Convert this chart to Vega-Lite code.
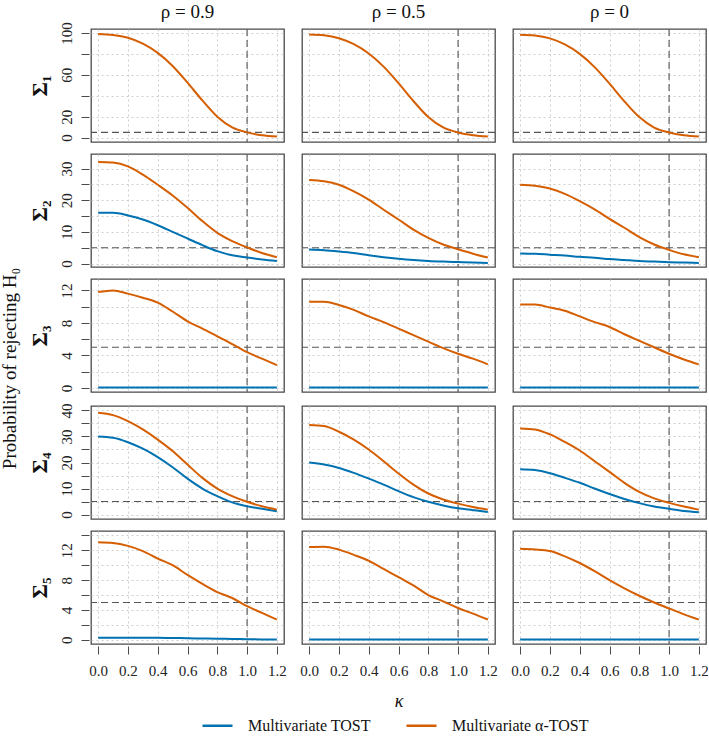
{
  "$schema": "https://vega.github.io/schema/vega-lite/v6.json",
  "padding": {"left": 0, "top": 3, "right": 5, "bottom": 3},
  "data": {
    "values": [
      {"s":1,"r":"ρ = 0.9","m":"Multivariate α-TOST","k":0,"p":99.0},
      {"s":1,"r":"ρ = 0.9","m":"Multivariate α-TOST","k":0.1,"p":98.1},
      {"s":1,"r":"ρ = 0.9","m":"Multivariate α-TOST","k":0.2,"p":95.4},
      {"s":1,"r":"ρ = 0.9","m":"Multivariate α-TOST","k":0.3,"p":89.8},
      {"s":1,"r":"ρ = 0.9","m":"Multivariate α-TOST","k":0.4,"p":81.0},
      {"s":1,"r":"ρ = 0.9","m":"Multivariate α-TOST","k":0.5,"p":68.5},
      {"s":1,"r":"ρ = 0.9","m":"Multivariate α-TOST","k":0.6,"p":52.5},
      {"s":1,"r":"ρ = 0.9","m":"Multivariate α-TOST","k":0.7,"p":35.5},
      {"s":1,"r":"ρ = 0.9","m":"Multivariate α-TOST","k":0.8,"p":20.0},
      {"s":1,"r":"ρ = 0.9","m":"Multivariate α-TOST","k":0.9,"p":9.8},
      {"s":1,"r":"ρ = 0.9","m":"Multivariate α-TOST","k":1.0,"p":5.0},
      {"s":1,"r":"ρ = 0.9","m":"Multivariate α-TOST","k":1.1,"p":2.3},
      {"s":1,"r":"ρ = 0.9","m":"Multivariate α-TOST","k":1.2,"p":1.0},
      {"s":1,"r":"ρ = 0.5","m":"Multivariate α-TOST","k":0,"p":98.6},
      {"s":1,"r":"ρ = 0.5","m":"Multivariate α-TOST","k":0.1,"p":97.8},
      {"s":1,"r":"ρ = 0.5","m":"Multivariate α-TOST","k":0.2,"p":95.0},
      {"s":1,"r":"ρ = 0.5","m":"Multivariate α-TOST","k":0.3,"p":89.3},
      {"s":1,"r":"ρ = 0.5","m":"Multivariate α-TOST","k":0.4,"p":80.4},
      {"s":1,"r":"ρ = 0.5","m":"Multivariate α-TOST","k":0.5,"p":67.8},
      {"s":1,"r":"ρ = 0.5","m":"Multivariate α-TOST","k":0.6,"p":52.0},
      {"s":1,"r":"ρ = 0.5","m":"Multivariate α-TOST","k":0.7,"p":35.0},
      {"s":1,"r":"ρ = 0.5","m":"Multivariate α-TOST","k":0.8,"p":19.7},
      {"s":1,"r":"ρ = 0.5","m":"Multivariate α-TOST","k":0.9,"p":9.7},
      {"s":1,"r":"ρ = 0.5","m":"Multivariate α-TOST","k":1.0,"p":4.9},
      {"s":1,"r":"ρ = 0.5","m":"Multivariate α-TOST","k":1.1,"p":2.3},
      {"s":1,"r":"ρ = 0.5","m":"Multivariate α-TOST","k":1.2,"p":1.0},
      {"s":1,"r":"ρ = 0","m":"Multivariate α-TOST","k":0,"p":98.4},
      {"s":1,"r":"ρ = 0","m":"Multivariate α-TOST","k":0.1,"p":97.6},
      {"s":1,"r":"ρ = 0","m":"Multivariate α-TOST","k":0.2,"p":94.8},
      {"s":1,"r":"ρ = 0","m":"Multivariate α-TOST","k":0.3,"p":89.0},
      {"s":1,"r":"ρ = 0","m":"Multivariate α-TOST","k":0.4,"p":80.0},
      {"s":1,"r":"ρ = 0","m":"Multivariate α-TOST","k":0.5,"p":67.4},
      {"s":1,"r":"ρ = 0","m":"Multivariate α-TOST","k":0.6,"p":51.6},
      {"s":1,"r":"ρ = 0","m":"Multivariate α-TOST","k":0.7,"p":34.7},
      {"s":1,"r":"ρ = 0","m":"Multivariate α-TOST","k":0.8,"p":19.6},
      {"s":1,"r":"ρ = 0","m":"Multivariate α-TOST","k":0.9,"p":9.6},
      {"s":1,"r":"ρ = 0","m":"Multivariate α-TOST","k":1.0,"p":4.9},
      {"s":1,"r":"ρ = 0","m":"Multivariate α-TOST","k":1.1,"p":2.3},
      {"s":1,"r":"ρ = 0","m":"Multivariate α-TOST","k":1.2,"p":1.0},

      {"s":2,"r":"ρ = 0.9","m":"Multivariate TOST","k":0,"p":16.0},
      {"s":2,"r":"ρ = 0.9","m":"Multivariate TOST","k":0.1,"p":16.0},
      {"s":2,"r":"ρ = 0.9","m":"Multivariate TOST","k":0.2,"p":15.2},
      {"s":2,"r":"ρ = 0.9","m":"Multivariate TOST","k":0.3,"p":13.9},
      {"s":2,"r":"ρ = 0.9","m":"Multivariate TOST","k":0.4,"p":12.1},
      {"s":2,"r":"ρ = 0.9","m":"Multivariate TOST","k":0.5,"p":10.0},
      {"s":2,"r":"ρ = 0.9","m":"Multivariate TOST","k":0.6,"p":7.9},
      {"s":2,"r":"ρ = 0.9","m":"Multivariate TOST","k":0.7,"p":5.8},
      {"s":2,"r":"ρ = 0.9","m":"Multivariate TOST","k":0.8,"p":3.9},
      {"s":2,"r":"ρ = 0.9","m":"Multivariate TOST","k":0.9,"p":2.6},
      {"s":2,"r":"ρ = 0.9","m":"Multivariate TOST","k":1.0,"p":1.9},
      {"s":2,"r":"ρ = 0.9","m":"Multivariate TOST","k":1.1,"p":1.3},
      {"s":2,"r":"ρ = 0.9","m":"Multivariate TOST","k":1.2,"p":0.8},
      {"s":2,"r":"ρ = 0.9","m":"Multivariate α-TOST","k":0,"p":32.1},
      {"s":2,"r":"ρ = 0.9","m":"Multivariate α-TOST","k":0.1,"p":31.9},
      {"s":2,"r":"ρ = 0.9","m":"Multivariate α-TOST","k":0.2,"p":30.7},
      {"s":2,"r":"ρ = 0.9","m":"Multivariate α-TOST","k":0.3,"p":28.1},
      {"s":2,"r":"ρ = 0.9","m":"Multivariate α-TOST","k":0.4,"p":24.9},
      {"s":2,"r":"ρ = 0.9","m":"Multivariate α-TOST","k":0.5,"p":21.5},
      {"s":2,"r":"ρ = 0.9","m":"Multivariate α-TOST","k":0.6,"p":17.6},
      {"s":2,"r":"ρ = 0.9","m":"Multivariate α-TOST","k":0.7,"p":13.4},
      {"s":2,"r":"ρ = 0.9","m":"Multivariate α-TOST","k":0.8,"p":9.7},
      {"s":2,"r":"ρ = 0.9","m":"Multivariate α-TOST","k":0.9,"p":7.1},
      {"s":2,"r":"ρ = 0.9","m":"Multivariate α-TOST","k":1.0,"p":5.1},
      {"s":2,"r":"ρ = 0.9","m":"Multivariate α-TOST","k":1.1,"p":3.3},
      {"s":2,"r":"ρ = 0.9","m":"Multivariate α-TOST","k":1.2,"p":2.0},
      {"s":2,"r":"ρ = 0.5","m":"Multivariate TOST","k":0,"p":4.4},
      {"s":2,"r":"ρ = 0.5","m":"Multivariate TOST","k":0.1,"p":4.2},
      {"s":2,"r":"ρ = 0.5","m":"Multivariate TOST","k":0.2,"p":3.8},
      {"s":2,"r":"ρ = 0.5","m":"Multivariate TOST","k":0.3,"p":3.3},
      {"s":2,"r":"ρ = 0.5","m":"Multivariate TOST","k":0.4,"p":2.6},
      {"s":2,"r":"ρ = 0.5","m":"Multivariate TOST","k":0.5,"p":2.0},
      {"s":2,"r":"ρ = 0.5","m":"Multivariate TOST","k":0.6,"p":1.5},
      {"s":2,"r":"ρ = 0.5","m":"Multivariate TOST","k":0.7,"p":1.1},
      {"s":2,"r":"ρ = 0.5","m":"Multivariate TOST","k":0.8,"p":0.8},
      {"s":2,"r":"ρ = 0.5","m":"Multivariate TOST","k":0.9,"p":0.6},
      {"s":2,"r":"ρ = 0.5","m":"Multivariate TOST","k":1.0,"p":0.45},
      {"s":2,"r":"ρ = 0.5","m":"Multivariate TOST","k":1.1,"p":0.3},
      {"s":2,"r":"ρ = 0.5","m":"Multivariate TOST","k":1.2,"p":0.2},
      {"s":2,"r":"ρ = 0.5","m":"Multivariate α-TOST","k":0,"p":26.4},
      {"s":2,"r":"ρ = 0.5","m":"Multivariate α-TOST","k":0.1,"p":26.0},
      {"s":2,"r":"ρ = 0.5","m":"Multivariate α-TOST","k":0.2,"p":24.9},
      {"s":2,"r":"ρ = 0.5","m":"Multivariate α-TOST","k":0.3,"p":22.8},
      {"s":2,"r":"ρ = 0.5","m":"Multivariate α-TOST","k":0.4,"p":20.2},
      {"s":2,"r":"ρ = 0.5","m":"Multivariate α-TOST","k":0.5,"p":17.0},
      {"s":2,"r":"ρ = 0.5","m":"Multivariate α-TOST","k":0.6,"p":13.9},
      {"s":2,"r":"ρ = 0.5","m":"Multivariate α-TOST","k":0.7,"p":10.7},
      {"s":2,"r":"ρ = 0.5","m":"Multivariate α-TOST","k":0.8,"p":8.1},
      {"s":2,"r":"ρ = 0.5","m":"Multivariate α-TOST","k":0.9,"p":6.0},
      {"s":2,"r":"ρ = 0.5","m":"Multivariate α-TOST","k":1.0,"p":4.5},
      {"s":2,"r":"ρ = 0.5","m":"Multivariate α-TOST","k":1.1,"p":3.1},
      {"s":2,"r":"ρ = 0.5","m":"Multivariate α-TOST","k":1.2,"p":1.9},
      {"s":2,"r":"ρ = 0","m":"Multivariate TOST","k":0,"p":3.2},
      {"s":2,"r":"ρ = 0","m":"Multivariate TOST","k":0.1,"p":3.1},
      {"s":2,"r":"ρ = 0","m":"Multivariate TOST","k":0.2,"p":2.8},
      {"s":2,"r":"ρ = 0","m":"Multivariate TOST","k":0.3,"p":2.5},
      {"s":2,"r":"ρ = 0","m":"Multivariate TOST","k":0.4,"p":2.1},
      {"s":2,"r":"ρ = 0","m":"Multivariate TOST","k":0.5,"p":1.8},
      {"s":2,"r":"ρ = 0","m":"Multivariate TOST","k":0.6,"p":1.4},
      {"s":2,"r":"ρ = 0","m":"Multivariate TOST","k":0.7,"p":1.1},
      {"s":2,"r":"ρ = 0","m":"Multivariate TOST","k":0.8,"p":0.8},
      {"s":2,"r":"ρ = 0","m":"Multivariate TOST","k":0.9,"p":0.6},
      {"s":2,"r":"ρ = 0","m":"Multivariate TOST","k":1.0,"p":0.4},
      {"s":2,"r":"ρ = 0","m":"Multivariate TOST","k":1.1,"p":0.3},
      {"s":2,"r":"ρ = 0","m":"Multivariate TOST","k":1.2,"p":0.2},
      {"s":2,"r":"ρ = 0","m":"Multivariate α-TOST","k":0,"p":24.9},
      {"s":2,"r":"ρ = 0","m":"Multivariate α-TOST","k":0.1,"p":24.6},
      {"s":2,"r":"ρ = 0","m":"Multivariate α-TOST","k":0.2,"p":23.7},
      {"s":2,"r":"ρ = 0","m":"Multivariate α-TOST","k":0.3,"p":22.0},
      {"s":2,"r":"ρ = 0","m":"Multivariate α-TOST","k":0.4,"p":19.7},
      {"s":2,"r":"ρ = 0","m":"Multivariate α-TOST","k":0.5,"p":17.1},
      {"s":2,"r":"ρ = 0","m":"Multivariate α-TOST","k":0.6,"p":14.1},
      {"s":2,"r":"ρ = 0","m":"Multivariate α-TOST","k":0.7,"p":11.3},
      {"s":2,"r":"ρ = 0","m":"Multivariate α-TOST","k":0.8,"p":8.3},
      {"s":2,"r":"ρ = 0","m":"Multivariate α-TOST","k":0.9,"p":6.0},
      {"s":2,"r":"ρ = 0","m":"Multivariate α-TOST","k":1.0,"p":4.3},
      {"s":2,"r":"ρ = 0","m":"Multivariate α-TOST","k":1.1,"p":2.9},
      {"s":2,"r":"ρ = 0","m":"Multivariate α-TOST","k":1.2,"p":2.0},

      {"s":3,"r":"ρ = 0.9","m":"Multivariate TOST","k":0,"p":0.05},
      {"s":3,"r":"ρ = 0.9","m":"Multivariate TOST","k":0.1,"p":0.05},
      {"s":3,"r":"ρ = 0.9","m":"Multivariate TOST","k":0.2,"p":0.05},
      {"s":3,"r":"ρ = 0.9","m":"Multivariate TOST","k":0.3,"p":0.05},
      {"s":3,"r":"ρ = 0.9","m":"Multivariate TOST","k":0.4,"p":0.05},
      {"s":3,"r":"ρ = 0.9","m":"Multivariate TOST","k":0.5,"p":0.05},
      {"s":3,"r":"ρ = 0.9","m":"Multivariate TOST","k":0.6,"p":0.05},
      {"s":3,"r":"ρ = 0.9","m":"Multivariate TOST","k":0.7,"p":0.05},
      {"s":3,"r":"ρ = 0.9","m":"Multivariate TOST","k":0.8,"p":0.05},
      {"s":3,"r":"ρ = 0.9","m":"Multivariate TOST","k":0.9,"p":0.05},
      {"s":3,"r":"ρ = 0.9","m":"Multivariate TOST","k":1.0,"p":0.05},
      {"s":3,"r":"ρ = 0.9","m":"Multivariate TOST","k":1.1,"p":0.05},
      {"s":3,"r":"ρ = 0.9","m":"Multivariate TOST","k":1.2,"p":0.05},
      {"s":3,"r":"ρ = 0.9","m":"Multivariate α-TOST","k":0,"p":11.8},
      {"s":3,"r":"ρ = 0.9","m":"Multivariate α-TOST","k":0.1,"p":12.0},
      {"s":3,"r":"ρ = 0.9","m":"Multivariate α-TOST","k":0.2,"p":11.6},
      {"s":3,"r":"ρ = 0.9","m":"Multivariate α-TOST","k":0.3,"p":11.1},
      {"s":3,"r":"ρ = 0.9","m":"Multivariate α-TOST","k":0.4,"p":10.5},
      {"s":3,"r":"ρ = 0.9","m":"Multivariate α-TOST","k":0.5,"p":9.4},
      {"s":3,"r":"ρ = 0.9","m":"Multivariate α-TOST","k":0.6,"p":8.2},
      {"s":3,"r":"ρ = 0.9","m":"Multivariate α-TOST","k":0.7,"p":7.3},
      {"s":3,"r":"ρ = 0.9","m":"Multivariate α-TOST","k":0.8,"p":6.35},
      {"s":3,"r":"ρ = 0.9","m":"Multivariate α-TOST","k":0.9,"p":5.4},
      {"s":3,"r":"ρ = 0.9","m":"Multivariate α-TOST","k":1.0,"p":4.4},
      {"s":3,"r":"ρ = 0.9","m":"Multivariate α-TOST","k":1.1,"p":3.6},
      {"s":3,"r":"ρ = 0.9","m":"Multivariate α-TOST","k":1.2,"p":2.8},
      {"s":3,"r":"ρ = 0.5","m":"Multivariate TOST","k":0,"p":0.05},
      {"s":3,"r":"ρ = 0.5","m":"Multivariate TOST","k":0.1,"p":0.05},
      {"s":3,"r":"ρ = 0.5","m":"Multivariate TOST","k":0.2,"p":0.05},
      {"s":3,"r":"ρ = 0.5","m":"Multivariate TOST","k":0.3,"p":0.05},
      {"s":3,"r":"ρ = 0.5","m":"Multivariate TOST","k":0.4,"p":0.05},
      {"s":3,"r":"ρ = 0.5","m":"Multivariate TOST","k":0.5,"p":0.05},
      {"s":3,"r":"ρ = 0.5","m":"Multivariate TOST","k":0.6,"p":0.05},
      {"s":3,"r":"ρ = 0.5","m":"Multivariate TOST","k":0.7,"p":0.05},
      {"s":3,"r":"ρ = 0.5","m":"Multivariate TOST","k":0.8,"p":0.05},
      {"s":3,"r":"ρ = 0.5","m":"Multivariate TOST","k":0.9,"p":0.05},
      {"s":3,"r":"ρ = 0.5","m":"Multivariate TOST","k":1.0,"p":0.05},
      {"s":3,"r":"ρ = 0.5","m":"Multivariate TOST","k":1.1,"p":0.05},
      {"s":3,"r":"ρ = 0.5","m":"Multivariate TOST","k":1.2,"p":0.05},
      {"s":3,"r":"ρ = 0.5","m":"Multivariate α-TOST","k":0,"p":10.6},
      {"s":3,"r":"ρ = 0.5","m":"Multivariate α-TOST","k":0.1,"p":10.6},
      {"s":3,"r":"ρ = 0.5","m":"Multivariate α-TOST","k":0.2,"p":10.2},
      {"s":3,"r":"ρ = 0.5","m":"Multivariate α-TOST","k":0.3,"p":9.6},
      {"s":3,"r":"ρ = 0.5","m":"Multivariate α-TOST","k":0.4,"p":8.8},
      {"s":3,"r":"ρ = 0.5","m":"Multivariate α-TOST","k":0.5,"p":8.1},
      {"s":3,"r":"ρ = 0.5","m":"Multivariate α-TOST","k":0.6,"p":7.3},
      {"s":3,"r":"ρ = 0.5","m":"Multivariate α-TOST","k":0.7,"p":6.5},
      {"s":3,"r":"ρ = 0.5","m":"Multivariate α-TOST","k":0.8,"p":5.7},
      {"s":3,"r":"ρ = 0.5","m":"Multivariate α-TOST","k":0.9,"p":4.9},
      {"s":3,"r":"ρ = 0.5","m":"Multivariate α-TOST","k":1.0,"p":4.2},
      {"s":3,"r":"ρ = 0.5","m":"Multivariate α-TOST","k":1.1,"p":3.6},
      {"s":3,"r":"ρ = 0.5","m":"Multivariate α-TOST","k":1.2,"p":2.9},
      {"s":3,"r":"ρ = 0","m":"Multivariate TOST","k":0,"p":0.05},
      {"s":3,"r":"ρ = 0","m":"Multivariate TOST","k":0.1,"p":0.05},
      {"s":3,"r":"ρ = 0","m":"Multivariate TOST","k":0.2,"p":0.05},
      {"s":3,"r":"ρ = 0","m":"Multivariate TOST","k":0.3,"p":0.05},
      {"s":3,"r":"ρ = 0","m":"Multivariate TOST","k":0.4,"p":0.05},
      {"s":3,"r":"ρ = 0","m":"Multivariate TOST","k":0.5,"p":0.05},
      {"s":3,"r":"ρ = 0","m":"Multivariate TOST","k":0.6,"p":0.05},
      {"s":3,"r":"ρ = 0","m":"Multivariate TOST","k":0.7,"p":0.05},
      {"s":3,"r":"ρ = 0","m":"Multivariate TOST","k":0.8,"p":0.05},
      {"s":3,"r":"ρ = 0","m":"Multivariate TOST","k":0.9,"p":0.05},
      {"s":3,"r":"ρ = 0","m":"Multivariate TOST","k":1.0,"p":0.05},
      {"s":3,"r":"ρ = 0","m":"Multivariate TOST","k":1.1,"p":0.05},
      {"s":3,"r":"ρ = 0","m":"Multivariate TOST","k":1.2,"p":0.05},
      {"s":3,"r":"ρ = 0","m":"Multivariate α-TOST","k":0,"p":10.25},
      {"s":3,"r":"ρ = 0","m":"Multivariate α-TOST","k":0.1,"p":10.25},
      {"s":3,"r":"ρ = 0","m":"Multivariate α-TOST","k":0.2,"p":9.9},
      {"s":3,"r":"ρ = 0","m":"Multivariate α-TOST","k":0.3,"p":9.5},
      {"s":3,"r":"ρ = 0","m":"Multivariate α-TOST","k":0.4,"p":8.8},
      {"s":3,"r":"ρ = 0","m":"Multivariate α-TOST","k":0.5,"p":8.1},
      {"s":3,"r":"ρ = 0","m":"Multivariate α-TOST","k":0.6,"p":7.5},
      {"s":3,"r":"ρ = 0","m":"Multivariate α-TOST","k":0.7,"p":6.6},
      {"s":3,"r":"ρ = 0","m":"Multivariate α-TOST","k":0.8,"p":5.8},
      {"s":3,"r":"ρ = 0","m":"Multivariate α-TOST","k":0.9,"p":5.0},
      {"s":3,"r":"ρ = 0","m":"Multivariate α-TOST","k":1.0,"p":4.2},
      {"s":3,"r":"ρ = 0","m":"Multivariate α-TOST","k":1.1,"p":3.5},
      {"s":3,"r":"ρ = 0","m":"Multivariate α-TOST","k":1.2,"p":2.9},

      {"s":4,"r":"ρ = 0.9","m":"Multivariate TOST","k":0,"p":30.0},
      {"s":4,"r":"ρ = 0.9","m":"Multivariate TOST","k":0.1,"p":29.5},
      {"s":4,"r":"ρ = 0.9","m":"Multivariate TOST","k":0.2,"p":27.8},
      {"s":4,"r":"ρ = 0.9","m":"Multivariate TOST","k":0.3,"p":25.3},
      {"s":4,"r":"ρ = 0.9","m":"Multivariate TOST","k":0.4,"p":22.1},
      {"s":4,"r":"ρ = 0.9","m":"Multivariate TOST","k":0.5,"p":18.2},
      {"s":4,"r":"ρ = 0.9","m":"Multivariate TOST","k":0.6,"p":13.8},
      {"s":4,"r":"ρ = 0.9","m":"Multivariate TOST","k":0.7,"p":10.0},
      {"s":4,"r":"ρ = 0.9","m":"Multivariate TOST","k":0.8,"p":7.1},
      {"s":4,"r":"ρ = 0.9","m":"Multivariate TOST","k":0.9,"p":4.7},
      {"s":4,"r":"ρ = 0.9","m":"Multivariate TOST","k":1.0,"p":3.2},
      {"s":4,"r":"ρ = 0.9","m":"Multivariate TOST","k":1.1,"p":2.2},
      {"s":4,"r":"ρ = 0.9","m":"Multivariate TOST","k":1.2,"p":1.3},
      {"s":4,"r":"ρ = 0.9","m":"Multivariate α-TOST","k":0,"p":39.1},
      {"s":4,"r":"ρ = 0.9","m":"Multivariate α-TOST","k":0.1,"p":38.2},
      {"s":4,"r":"ρ = 0.9","m":"Multivariate α-TOST","k":0.2,"p":35.9},
      {"s":4,"r":"ρ = 0.9","m":"Multivariate α-TOST","k":0.3,"p":32.7},
      {"s":4,"r":"ρ = 0.9","m":"Multivariate α-TOST","k":0.4,"p":28.8},
      {"s":4,"r":"ρ = 0.9","m":"Multivariate α-TOST","k":0.5,"p":24.4},
      {"s":4,"r":"ρ = 0.9","m":"Multivariate α-TOST","k":0.6,"p":19.2},
      {"s":4,"r":"ρ = 0.9","m":"Multivariate α-TOST","k":0.7,"p":14.1},
      {"s":4,"r":"ρ = 0.9","m":"Multivariate α-TOST","k":0.8,"p":10.0},
      {"s":4,"r":"ρ = 0.9","m":"Multivariate α-TOST","k":0.9,"p":7.1},
      {"s":4,"r":"ρ = 0.9","m":"Multivariate α-TOST","k":1.0,"p":4.9},
      {"s":4,"r":"ρ = 0.9","m":"Multivariate α-TOST","k":1.1,"p":3.2},
      {"s":4,"r":"ρ = 0.9","m":"Multivariate α-TOST","k":1.2,"p":1.9},
      {"s":4,"r":"ρ = 0.5","m":"Multivariate TOST","k":0,"p":20.0},
      {"s":4,"r":"ρ = 0.5","m":"Multivariate TOST","k":0.1,"p":19.2},
      {"s":4,"r":"ρ = 0.5","m":"Multivariate TOST","k":0.2,"p":17.9},
      {"s":4,"r":"ρ = 0.5","m":"Multivariate TOST","k":0.3,"p":16.0},
      {"s":4,"r":"ρ = 0.5","m":"Multivariate TOST","k":0.4,"p":13.8},
      {"s":4,"r":"ρ = 0.5","m":"Multivariate TOST","k":0.5,"p":11.5},
      {"s":4,"r":"ρ = 0.5","m":"Multivariate TOST","k":0.6,"p":9.0},
      {"s":4,"r":"ρ = 0.5","m":"Multivariate TOST","k":0.7,"p":6.7},
      {"s":4,"r":"ρ = 0.5","m":"Multivariate TOST","k":0.8,"p":4.9},
      {"s":4,"r":"ρ = 0.5","m":"Multivariate TOST","k":0.9,"p":3.5},
      {"s":4,"r":"ρ = 0.5","m":"Multivariate TOST","k":1.0,"p":2.4},
      {"s":4,"r":"ρ = 0.5","m":"Multivariate TOST","k":1.1,"p":1.7},
      {"s":4,"r":"ρ = 0.5","m":"Multivariate TOST","k":1.2,"p":1.0},
      {"s":4,"r":"ρ = 0.5","m":"Multivariate α-TOST","k":0,"p":34.4},
      {"s":4,"r":"ρ = 0.5","m":"Multivariate α-TOST","k":0.1,"p":34.0},
      {"s":4,"r":"ρ = 0.5","m":"Multivariate α-TOST","k":0.2,"p":31.8},
      {"s":4,"r":"ρ = 0.5","m":"Multivariate α-TOST","k":0.3,"p":28.8},
      {"s":4,"r":"ρ = 0.5","m":"Multivariate α-TOST","k":0.4,"p":25.0},
      {"s":4,"r":"ρ = 0.5","m":"Multivariate α-TOST","k":0.5,"p":20.5},
      {"s":4,"r":"ρ = 0.5","m":"Multivariate α-TOST","k":0.6,"p":15.8},
      {"s":4,"r":"ρ = 0.5","m":"Multivariate α-TOST","k":0.7,"p":11.5},
      {"s":4,"r":"ρ = 0.5","m":"Multivariate α-TOST","k":0.8,"p":8.1},
      {"s":4,"r":"ρ = 0.5","m":"Multivariate α-TOST","k":0.9,"p":5.8},
      {"s":4,"r":"ρ = 0.5","m":"Multivariate α-TOST","k":1.0,"p":4.2},
      {"s":4,"r":"ρ = 0.5","m":"Multivariate α-TOST","k":1.1,"p":2.9},
      {"s":4,"r":"ρ = 0.5","m":"Multivariate α-TOST","k":1.2,"p":1.9},
      {"s":4,"r":"ρ = 0","m":"Multivariate TOST","k":0,"p":17.4},
      {"s":4,"r":"ρ = 0","m":"Multivariate TOST","k":0.1,"p":17.1},
      {"s":4,"r":"ρ = 0","m":"Multivariate TOST","k":0.2,"p":15.9},
      {"s":4,"r":"ρ = 0","m":"Multivariate TOST","k":0.3,"p":14.1},
      {"s":4,"r":"ρ = 0","m":"Multivariate TOST","k":0.4,"p":12.2},
      {"s":4,"r":"ρ = 0","m":"Multivariate TOST","k":0.5,"p":10.0},
      {"s":4,"r":"ρ = 0","m":"Multivariate TOST","k":0.6,"p":7.9},
      {"s":4,"r":"ρ = 0","m":"Multivariate TOST","k":0.7,"p":6.0},
      {"s":4,"r":"ρ = 0","m":"Multivariate TOST","k":0.8,"p":4.4},
      {"s":4,"r":"ρ = 0","m":"Multivariate TOST","k":0.9,"p":3.1},
      {"s":4,"r":"ρ = 0","m":"Multivariate TOST","k":1.0,"p":2.2},
      {"s":4,"r":"ρ = 0","m":"Multivariate TOST","k":1.1,"p":1.4},
      {"s":4,"r":"ρ = 0","m":"Multivariate TOST","k":1.2,"p":0.9},
      {"s":4,"r":"ρ = 0","m":"Multivariate α-TOST","k":0,"p":33.1},
      {"s":4,"r":"ρ = 0","m":"Multivariate α-TOST","k":0.1,"p":32.7},
      {"s":4,"r":"ρ = 0","m":"Multivariate α-TOST","k":0.2,"p":30.8},
      {"s":4,"r":"ρ = 0","m":"Multivariate α-TOST","k":0.3,"p":27.9},
      {"s":4,"r":"ρ = 0","m":"Multivariate α-TOST","k":0.4,"p":24.6},
      {"s":4,"r":"ρ = 0","m":"Multivariate α-TOST","k":0.5,"p":20.5},
      {"s":4,"r":"ρ = 0","m":"Multivariate α-TOST","k":0.6,"p":16.4},
      {"s":4,"r":"ρ = 0","m":"Multivariate α-TOST","k":0.7,"p":12.2},
      {"s":4,"r":"ρ = 0","m":"Multivariate α-TOST","k":0.8,"p":8.7},
      {"s":4,"r":"ρ = 0","m":"Multivariate α-TOST","k":0.9,"p":6.2},
      {"s":4,"r":"ρ = 0","m":"Multivariate α-TOST","k":1.0,"p":4.5},
      {"s":4,"r":"ρ = 0","m":"Multivariate α-TOST","k":1.1,"p":3.1},
      {"s":4,"r":"ρ = 0","m":"Multivariate α-TOST","k":1.2,"p":1.9},

      {"s":5,"r":"ρ = 0.9","m":"Multivariate TOST","k":0,"p":0.25},
      {"s":5,"r":"ρ = 0.9","m":"Multivariate TOST","k":0.1,"p":0.25},
      {"s":5,"r":"ρ = 0.9","m":"Multivariate TOST","k":0.2,"p":0.25},
      {"s":5,"r":"ρ = 0.9","m":"Multivariate TOST","k":0.3,"p":0.25},
      {"s":5,"r":"ρ = 0.9","m":"Multivariate TOST","k":0.4,"p":0.25},
      {"s":5,"r":"ρ = 0.9","m":"Multivariate TOST","k":0.5,"p":0.22},
      {"s":5,"r":"ρ = 0.9","m":"Multivariate TOST","k":0.6,"p":0.2},
      {"s":5,"r":"ρ = 0.9","m":"Multivariate TOST","k":0.7,"p":0.16},
      {"s":5,"r":"ρ = 0.9","m":"Multivariate TOST","k":0.8,"p":0.12},
      {"s":5,"r":"ρ = 0.9","m":"Multivariate TOST","k":0.9,"p":0.1},
      {"s":5,"r":"ρ = 0.9","m":"Multivariate TOST","k":1.0,"p":0.06},
      {"s":5,"r":"ρ = 0.9","m":"Multivariate TOST","k":1.1,"p":0.04},
      {"s":5,"r":"ρ = 0.9","m":"Multivariate TOST","k":1.2,"p":0.03},
      {"s":5,"r":"ρ = 0.9","m":"Multivariate α-TOST","k":0,"p":13.1},
      {"s":5,"r":"ρ = 0.9","m":"Multivariate α-TOST","k":0.1,"p":13.0},
      {"s":5,"r":"ρ = 0.9","m":"Multivariate α-TOST","k":0.2,"p":12.6},
      {"s":5,"r":"ρ = 0.9","m":"Multivariate α-TOST","k":0.3,"p":11.9},
      {"s":5,"r":"ρ = 0.9","m":"Multivariate α-TOST","k":0.4,"p":10.9},
      {"s":5,"r":"ρ = 0.9","m":"Multivariate α-TOST","k":0.5,"p":10.0},
      {"s":5,"r":"ρ = 0.9","m":"Multivariate α-TOST","k":0.6,"p":8.7},
      {"s":5,"r":"ρ = 0.9","m":"Multivariate α-TOST","k":0.7,"p":7.5},
      {"s":5,"r":"ρ = 0.9","m":"Multivariate α-TOST","k":0.8,"p":6.4},
      {"s":5,"r":"ρ = 0.9","m":"Multivariate α-TOST","k":0.9,"p":5.6},
      {"s":5,"r":"ρ = 0.9","m":"Multivariate α-TOST","k":1.0,"p":4.5},
      {"s":5,"r":"ρ = 0.9","m":"Multivariate α-TOST","k":1.1,"p":3.6},
      {"s":5,"r":"ρ = 0.9","m":"Multivariate α-TOST","k":1.2,"p":2.7},
      {"s":5,"r":"ρ = 0.5","m":"Multivariate TOST","k":0,"p":0.03},
      {"s":5,"r":"ρ = 0.5","m":"Multivariate TOST","k":0.1,"p":0.03},
      {"s":5,"r":"ρ = 0.5","m":"Multivariate TOST","k":0.2,"p":0.03},
      {"s":5,"r":"ρ = 0.5","m":"Multivariate TOST","k":0.3,"p":0.03},
      {"s":5,"r":"ρ = 0.5","m":"Multivariate TOST","k":0.4,"p":0.03},
      {"s":5,"r":"ρ = 0.5","m":"Multivariate TOST","k":0.5,"p":0.03},
      {"s":5,"r":"ρ = 0.5","m":"Multivariate TOST","k":0.6,"p":0.03},
      {"s":5,"r":"ρ = 0.5","m":"Multivariate TOST","k":0.7,"p":0.03},
      {"s":5,"r":"ρ = 0.5","m":"Multivariate TOST","k":0.8,"p":0.03},
      {"s":5,"r":"ρ = 0.5","m":"Multivariate TOST","k":0.9,"p":0.03},
      {"s":5,"r":"ρ = 0.5","m":"Multivariate TOST","k":1.0,"p":0.03},
      {"s":5,"r":"ρ = 0.5","m":"Multivariate TOST","k":1.1,"p":0.03},
      {"s":5,"r":"ρ = 0.5","m":"Multivariate TOST","k":1.2,"p":0.03},
      {"s":5,"r":"ρ = 0.5","m":"Multivariate α-TOST","k":0,"p":12.45},
      {"s":5,"r":"ρ = 0.5","m":"Multivariate α-TOST","k":0.1,"p":12.5},
      {"s":5,"r":"ρ = 0.5","m":"Multivariate α-TOST","k":0.2,"p":12.1},
      {"s":5,"r":"ρ = 0.5","m":"Multivariate α-TOST","k":0.3,"p":11.4},
      {"s":5,"r":"ρ = 0.5","m":"Multivariate α-TOST","k":0.4,"p":10.6},
      {"s":5,"r":"ρ = 0.5","m":"Multivariate α-TOST","k":0.5,"p":9.5},
      {"s":5,"r":"ρ = 0.5","m":"Multivariate α-TOST","k":0.6,"p":8.4},
      {"s":5,"r":"ρ = 0.5","m":"Multivariate α-TOST","k":0.7,"p":7.3},
      {"s":5,"r":"ρ = 0.5","m":"Multivariate α-TOST","k":0.8,"p":6.0},
      {"s":5,"r":"ρ = 0.5","m":"Multivariate α-TOST","k":0.9,"p":5.15},
      {"s":5,"r":"ρ = 0.5","m":"Multivariate α-TOST","k":1.0,"p":4.25},
      {"s":5,"r":"ρ = 0.5","m":"Multivariate α-TOST","k":1.1,"p":3.5},
      {"s":5,"r":"ρ = 0.5","m":"Multivariate α-TOST","k":1.2,"p":2.7},
      {"s":5,"r":"ρ = 0","m":"Multivariate TOST","k":0,"p":0.03},
      {"s":5,"r":"ρ = 0","m":"Multivariate TOST","k":0.1,"p":0.03},
      {"s":5,"r":"ρ = 0","m":"Multivariate TOST","k":0.2,"p":0.03},
      {"s":5,"r":"ρ = 0","m":"Multivariate TOST","k":0.3,"p":0.03},
      {"s":5,"r":"ρ = 0","m":"Multivariate TOST","k":0.4,"p":0.03},
      {"s":5,"r":"ρ = 0","m":"Multivariate TOST","k":0.5,"p":0.03},
      {"s":5,"r":"ρ = 0","m":"Multivariate TOST","k":0.6,"p":0.03},
      {"s":5,"r":"ρ = 0","m":"Multivariate TOST","k":0.7,"p":0.03},
      {"s":5,"r":"ρ = 0","m":"Multivariate TOST","k":0.8,"p":0.03},
      {"s":5,"r":"ρ = 0","m":"Multivariate TOST","k":0.9,"p":0.03},
      {"s":5,"r":"ρ = 0","m":"Multivariate TOST","k":1.0,"p":0.03},
      {"s":5,"r":"ρ = 0","m":"Multivariate TOST","k":1.1,"p":0.03},
      {"s":5,"r":"ρ = 0","m":"Multivariate TOST","k":1.2,"p":0.03},
      {"s":5,"r":"ρ = 0","m":"Multivariate α-TOST","k":0,"p":12.2},
      {"s":5,"r":"ρ = 0","m":"Multivariate α-TOST","k":0.1,"p":12.1},
      {"s":5,"r":"ρ = 0","m":"Multivariate α-TOST","k":0.2,"p":11.9},
      {"s":5,"r":"ρ = 0","m":"Multivariate α-TOST","k":0.3,"p":11.2},
      {"s":5,"r":"ρ = 0","m":"Multivariate α-TOST","k":0.4,"p":10.3},
      {"s":5,"r":"ρ = 0","m":"Multivariate α-TOST","k":0.5,"p":9.2},
      {"s":5,"r":"ρ = 0","m":"Multivariate α-TOST","k":0.6,"p":8.0},
      {"s":5,"r":"ρ = 0","m":"Multivariate α-TOST","k":0.7,"p":6.9},
      {"s":5,"r":"ρ = 0","m":"Multivariate α-TOST","k":0.8,"p":5.9},
      {"s":5,"r":"ρ = 0","m":"Multivariate α-TOST","k":0.9,"p":5.0},
      {"s":5,"r":"ρ = 0","m":"Multivariate α-TOST","k":1.0,"p":4.2},
      {"s":5,"r":"ρ = 0","m":"Multivariate α-TOST","k":1.1,"p":3.4},
      {"s":5,"r":"ρ = 0","m":"Multivariate α-TOST","k":1.2,"p":2.7}
    ]
  },
  "title": {
    "text": "Probability of rejecting H₀",
    "orient": "left",
    "anchor": "middle",
    "font": "Liberation Serif, DejaVu Serif, serif",
    "fontSize": 19,
    "fontWeight": "normal",
    "color": "#111111",
    "offset": 8
  },
  "spacing": 8,
  "resolve": {"scale": {"color": "shared"}, "legend": {"color": "shared"}},
  "vconcat": [
    {
      "transform": [{"filter": "datum.s == 1"}],
      "facet": {"column": {"field": "r", "type": "nominal", "sort": ["ρ = 0.9", "ρ = 0.5", "ρ = 0"], "title": null, "header": {"labelPadding": 5}}},
      "spacing": 14,
      "spec": {
        "width": 193,
        "height": 113,
        "layer": [
          {
            "transform": [{"filter": "datum.k == 0 && datum.m == 'Multivariate α-TOST'"}],
            "mark": {"type": "rule", "strokeDash": [7, 4], "color": "#555555", "strokeWidth": 1.1},
            "encoding": {"y": {"datum": 5, "type": "quantitative", "scale": {"domain": [-4.2, 103.8], "nice": false, "zero": false},
                    "axis": {"values": [0, 20, 40, 60, 80, 100], "labelExpr": "datum.value == 40 || datum.value == 80 ? '' : datum.label", "title": "Σ₁"}}}
          },
          {
            "transform": [{"filter": "datum.k == 0 && datum.m == 'Multivariate α-TOST'"}],
            "mark": {"type": "rule", "strokeDash": [7, 4], "color": "#555555", "strokeWidth": 1.1},
            "encoding": {"x": {"datum": 1, "type": "quantitative", "scale": {"domain": [-0.048, 1.248], "nice": false, "zero": false},
                    "axis": {"values": [0, 0.2, 0.4, 0.6, 0.8, 1.0, 1.2], "labels": false, "ticks": false, "title": null, "labelPadding": 0, "maxExtent": 0, "minExtent": 0}}}
          },
          {
            "mark": {"type": "line", "strokeWidth": 2, "interpolate": "monotone"},
            "encoding": {
              "x": {"field": "k", "type": "quantitative", "scale": {"domain": [-0.048, 1.248], "nice": false, "zero": false},
                    "axis": {"values": [0, 0.2, 0.4, 0.6, 0.8, 1.0, 1.2], "labels": false, "ticks": false, "title": null, "labelPadding": 0, "maxExtent": 0, "minExtent": 0}},
              "y": {"field": "p", "type": "quantitative", "scale": {"domain": [-4.2, 103.8], "nice": false, "zero": false},
                    "axis": {"values": [0, 20, 40, 60, 80, 100], "labelExpr": "datum.value == 40 || datum.value == 80 ? '' : datum.label", "title": "Σ₁"}},
              "color": {"field": "m", "type": "nominal", "scale": {"domain": ["Multivariate TOST", "Multivariate α-TOST"], "range": ["#0072B2", "#D55E00"]},
                        "legend": {"title": null, "orient": "none", "direction": "horizontal", "legendX": 110, "legendY": 680}}
            }
          }
        ]
      }
    },
    {
      "transform": [{"filter": "datum.s == 2"}],
      "facet": {"column": {"field": "r", "type": "nominal", "sort": ["ρ = 0.9", "ρ = 0.5", "ρ = 0"], "title": null, "header": {"labels": false}}},
      "spacing": 14,
      "spec": {
        "width": 193,
        "height": 113,
        "layer": [
          {
            "transform": [{"filter": "datum.k == 0 && datum.m == 'Multivariate α-TOST'"}],
            "mark": {"type": "rule", "strokeDash": [7, 4], "color": "#555555", "strokeWidth": 1.1},
            "encoding": {"y": {"datum": 5, "type": "quantitative", "scale": {"domain": [-1.1, 34.6], "nice": false, "zero": false},
                    "axis": {"values": [0, 5, 10, 15, 20, 25, 30], "labelExpr": "datum.value % 10 == 0 ? datum.label : ''", "title": "Σ₂"}}}
          },
          {
            "transform": [{"filter": "datum.k == 0 && datum.m == 'Multivariate α-TOST'"}],
            "mark": {"type": "rule", "strokeDash": [7, 4], "color": "#555555", "strokeWidth": 1.1},
            "encoding": {"x": {"datum": 1, "type": "quantitative", "scale": {"domain": [-0.048, 1.248], "nice": false, "zero": false},
                    "axis": {"values": [0, 0.2, 0.4, 0.6, 0.8, 1.0, 1.2], "labels": false, "ticks": false, "title": null, "labelPadding": 0, "maxExtent": 0, "minExtent": 0}}}
          },
          {
            "mark": {"type": "line", "strokeWidth": 2, "interpolate": "monotone"},
            "encoding": {
              "x": {"field": "k", "type": "quantitative", "scale": {"domain": [-0.048, 1.248], "nice": false, "zero": false},
                    "axis": {"values": [0, 0.2, 0.4, 0.6, 0.8, 1.0, 1.2], "labels": false, "ticks": false, "title": null, "labelPadding": 0, "maxExtent": 0, "minExtent": 0}},
              "y": {"field": "p", "type": "quantitative", "scale": {"domain": [-1.1, 34.6], "nice": false, "zero": false},
                    "axis": {"values": [0, 5, 10, 15, 20, 25, 30], "labelExpr": "datum.value % 10 == 0 ? datum.label : ''", "title": "Σ₂"}},
              "color": {"field": "m", "type": "nominal", "scale": {"domain": ["Multivariate TOST", "Multivariate α-TOST"], "range": ["#0072B2", "#D55E00"]},
                        "legend": {"title": null, "orient": "none", "direction": "horizontal", "legendX": 110, "legendY": 680}}
            }
          }
        ]
      }
    },
    {
      "transform": [{"filter": "datum.s == 3"}],
      "facet": {"column": {"field": "r", "type": "nominal", "sort": ["ρ = 0.9", "ρ = 0.5", "ρ = 0"], "title": null, "header": {"labels": false}}},
      "spacing": 14,
      "spec": {
        "width": 193,
        "height": 113,
        "layer": [
          {
            "transform": [{"filter": "datum.k == 0 && datum.m == 'Multivariate α-TOST'"}],
            "mark": {"type": "rule", "strokeDash": [7, 4], "color": "#555555", "strokeWidth": 1.1},
            "encoding": {"y": {"datum": 5, "type": "quantitative", "scale": {"domain": [-0.5, 13.4], "nice": false, "zero": false},
                    "axis": {"values": [0, 2, 4, 6, 8, 10, 12], "labelExpr": "datum.value % 4 == 0 ? datum.label : ''", "title": "Σ₃"}}}
          },
          {
            "transform": [{"filter": "datum.k == 0 && datum.m == 'Multivariate α-TOST'"}],
            "mark": {"type": "rule", "strokeDash": [7, 4], "color": "#555555", "strokeWidth": 1.1},
            "encoding": {"x": {"datum": 1, "type": "quantitative", "scale": {"domain": [-0.048, 1.248], "nice": false, "zero": false},
                    "axis": {"values": [0, 0.2, 0.4, 0.6, 0.8, 1.0, 1.2], "labels": false, "ticks": false, "title": null, "labelPadding": 0, "maxExtent": 0, "minExtent": 0}}}
          },
          {
            "mark": {"type": "line", "strokeWidth": 2, "interpolate": "monotone"},
            "encoding": {
              "x": {"field": "k", "type": "quantitative", "scale": {"domain": [-0.048, 1.248], "nice": false, "zero": false},
                    "axis": {"values": [0, 0.2, 0.4, 0.6, 0.8, 1.0, 1.2], "labels": false, "ticks": false, "title": null, "labelPadding": 0, "maxExtent": 0, "minExtent": 0}},
              "y": {"field": "p", "type": "quantitative", "scale": {"domain": [-0.5, 13.4], "nice": false, "zero": false},
                    "axis": {"values": [0, 2, 4, 6, 8, 10, 12], "labelExpr": "datum.value % 4 == 0 ? datum.label : ''", "title": "Σ₃"}},
              "color": {"field": "m", "type": "nominal", "scale": {"domain": ["Multivariate TOST", "Multivariate α-TOST"], "range": ["#0072B2", "#D55E00"]},
                        "legend": {"title": null, "orient": "none", "direction": "horizontal", "legendX": 110, "legendY": 680}}
            }
          }
        ]
      }
    },
    {
      "transform": [{"filter": "datum.s == 4"}],
      "facet": {"column": {"field": "r", "type": "nominal", "sort": ["ρ = 0.9", "ρ = 0.5", "ρ = 0"], "title": null, "header": {"labels": false}}},
      "spacing": 14,
      "spec": {
        "width": 193,
        "height": 113,
        "layer": [
          {
            "transform": [{"filter": "datum.k == 0 && datum.m == 'Multivariate α-TOST'"}],
            "mark": {"type": "rule", "strokeDash": [7, 4], "color": "#555555", "strokeWidth": 1.1},
            "encoding": {"y": {"datum": 5, "type": "quantitative", "scale": {"domain": [-1.7, 41.7], "nice": false, "zero": false},
                    "axis": {"values": [0, 5, 10, 15, 20, 25, 30, 35, 40], "labelExpr": "datum.value % 10 == 0 ? datum.label : ''", "title": "Σ₄"}}}
          },
          {
            "transform": [{"filter": "datum.k == 0 && datum.m == 'Multivariate α-TOST'"}],
            "mark": {"type": "rule", "strokeDash": [7, 4], "color": "#555555", "strokeWidth": 1.1},
            "encoding": {"x": {"datum": 1, "type": "quantitative", "scale": {"domain": [-0.048, 1.248], "nice": false, "zero": false},
                    "axis": {"values": [0, 0.2, 0.4, 0.6, 0.8, 1.0, 1.2], "labels": false, "ticks": false, "title": null, "labelPadding": 0, "maxExtent": 0, "minExtent": 0}}}
          },
          {
            "mark": {"type": "line", "strokeWidth": 2, "interpolate": "monotone"},
            "encoding": {
              "x": {"field": "k", "type": "quantitative", "scale": {"domain": [-0.048, 1.248], "nice": false, "zero": false},
                    "axis": {"values": [0, 0.2, 0.4, 0.6, 0.8, 1.0, 1.2], "labels": false, "ticks": false, "title": null, "labelPadding": 0, "maxExtent": 0, "minExtent": 0}},
              "y": {"field": "p", "type": "quantitative", "scale": {"domain": [-1.7, 41.7], "nice": false, "zero": false},
                    "axis": {"values": [0, 5, 10, 15, 20, 25, 30, 35, 40], "labelExpr": "datum.value % 10 == 0 ? datum.label : ''", "title": "Σ₄"}},
              "color": {"field": "m", "type": "nominal", "scale": {"domain": ["Multivariate TOST", "Multivariate α-TOST"], "range": ["#0072B2", "#D55E00"]},
                        "legend": {"title": null, "orient": "none", "direction": "horizontal", "legendX": 110, "legendY": 680}}
            }
          }
        ]
      }
    },
    {
      "transform": [{"filter": "datum.s == 5"}],
      "facet": {"column": {"field": "r", "type": "nominal", "sort": ["ρ = 0.9", "ρ = 0.5", "ρ = 0"], "title": "κ",
                 "header": {"labels": false, "titleOrient": "bottom", "titleFontStyle": "italic", "titleFontSize": 18, "titleFontWeight": "normal", "titlePadding": 5}}},
      "spacing": 14,
      "spec": {
        "width": 193,
        "height": 113,
        "layer": [
          {
            "transform": [{"filter": "datum.k == 0 && datum.m == 'Multivariate α-TOST'"}],
            "mark": {"type": "rule", "strokeDash": [7, 4], "color": "#555555", "strokeWidth": 1.1},
            "encoding": {"y": {"datum": 5, "type": "quantitative", "scale": {"domain": [-0.58, 14.6], "nice": false, "zero": false},
                    "axis": {"values": [0, 2, 4, 6, 8, 10, 12, 14], "labelExpr": "datum.value % 4 == 0 ? datum.label : ''", "title": "Σ₅"}}}
          },
          {
            "transform": [{"filter": "datum.k == 0 && datum.m == 'Multivariate α-TOST'"}],
            "mark": {"type": "rule", "strokeDash": [7, 4], "color": "#555555", "strokeWidth": 1.1},
            "encoding": {"x": {"datum": 1, "type": "quantitative", "scale": {"domain": [-0.048, 1.248], "nice": false, "zero": false},
                    "axis": {"values": [0, 0.2, 0.4, 0.6, 0.8, 1.0, 1.2], "format": ".1f", "title": null, "labelPadding": 9}}}
          },
          {
            "mark": {"type": "line", "strokeWidth": 2, "interpolate": "monotone"},
            "encoding": {
              "x": {"field": "k", "type": "quantitative", "scale": {"domain": [-0.048, 1.248], "nice": false, "zero": false},
                    "axis": {"values": [0, 0.2, 0.4, 0.6, 0.8, 1.0, 1.2], "format": ".1f", "title": null, "labelPadding": 9}},
              "y": {"field": "p", "type": "quantitative", "scale": {"domain": [-0.58, 14.6], "nice": false, "zero": false},
                    "axis": {"values": [0, 2, 4, 6, 8, 10, 12, 14], "labelExpr": "datum.value % 4 == 0 ? datum.label : ''", "title": "Σ₅"}},
              "color": {"field": "m", "type": "nominal", "scale": {"domain": ["Multivariate TOST", "Multivariate α-TOST"], "range": ["#0072B2", "#D55E00"]},
                        "legend": {"title": null, "orient": "none", "direction": "horizontal", "legendX": 110, "legendY": 680}}
            }
          }
        ]
      }
    }
  ],
  "config": {
    "font": "Liberation Serif, DejaVu Serif, serif",
    "view": {"stroke": "#4a4a4a", "strokeWidth": 1.3},
    "axis": {
      "domain": false,
      "grid": true,
      "gridColor": "#c8c8c8",
      "gridDash": [2, 3],
      "gridWidth": 0.9,
      "tickColor": "#4a4a4a",
      "tickWidth": 1,
      "tickSize": 8,
      "labelFont": "Liberation Serif, DejaVu Serif, serif",
      "labelFontSize": 15,
      "labelColor": "#222222",
      "titleFont": "Liberation Serif, DejaVu Serif, serif",
      "titleColor": "#111111"
    },
    "axisY": {
      "labelAngle": -90,
      "labelAlign": "center",
      "labelBaseline": "bottom",
      "labelPadding": 7,
      "titleFontSize": 22,
      "titleFontWeight": "bold",
      "titlePadding": 8
    },
    "header": {"labelFont": "Liberation Serif, DejaVu Serif, serif", "titleFont": "Liberation Serif, DejaVu Serif, serif", "labelFontSize": 19, "labelColor": "#111111", "titleColor": "#111111"},
    "legend": {
      "labelFont": "Liberation Serif, DejaVu Serif, serif",
      "labelFontSize": 16,
      "labelColor": "#111111",
      "symbolType": "stroke",
      "symbolSize": 900,
      "symbolStrokeWidth": 2.5,
      "labelOffset": 14,
      "columnPadding": 30
    }
  }
}
